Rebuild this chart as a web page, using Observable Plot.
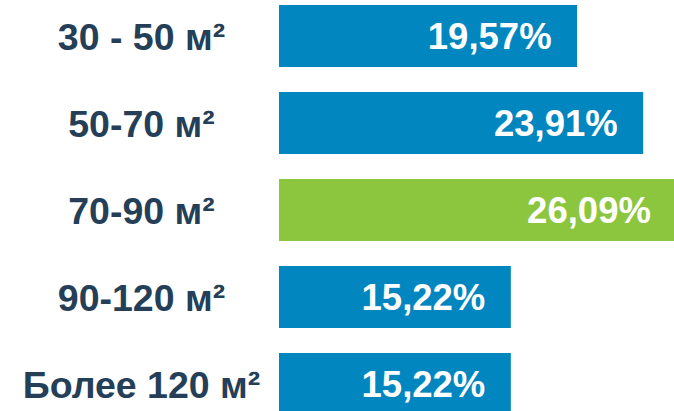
<!DOCTYPE html>
<html>
<head>
<meta charset="utf-8">
<script src="https://cdn.jsdelivr.net/npm/d3@7"></script>
<script src="https://cdn.jsdelivr.net/npm/@observablehq/plot@0.6"></script>
<style>
  html, body { margin: 0; padding: 0; background: #fff; overflow: hidden; }
</style>
</head>
<body>
<div id="chart"></div>
<script>
const categories = ["30 - 50 м²", "50-70 м²", "70-90 м²", "90-120 м²", "Более 120 м²"];
const values = [19.57, 23.91, 26.09, 15.22, 15.22];
const valueLabels = ["19,57%", "23,91%", "26,09%", "15,22%", "15,22%"];
const highlight = ["no", "no", "yes", "no", "no"];

const data = categories.map((c, i) => ({
  category: c,
  value: values[i],
  label: valueLabels[i],
  highlight: highlight[i]
}));

const chart = Plot.plot({
  width: 674,
  height: 411,
  marginLeft: 279,
  marginRight: 0,
  marginTop: 0,
  marginBottom: 0,
  style: { fontFamily: "'Liberation Sans', Arial, sans-serif", background: "#fff" },
  x: { domain: [0, 26.09], range: [279, 676.4], axis: null },
  y: { domain: categories, range: [3.3, 416.1], paddingInner: 0.288, paddingOuter: 0, axis: null },
  color: { domain: ["no", "yes"], range: ["#0286BF", "#8CC63F"] },
  marks: [
    Plot.barX(data, { x: "value", y: "category", fill: "highlight" }),
    Plot.text(data, {
      x: "value", y: "category", text: "label",
      textAnchor: "end", dx: -26, dy: 1,
      fill: "#fff", fontSize: 36.5, fontWeight: "bold"
    }),
    Plot.axisY({
      anchor: "left", label: null, tickSize: 0, tickPadding: 138, textAnchor: "middle",
      fontSize: 37.5, fontWeight: "bold", fill: "#243F57", color: "#243F57", dy: 1
    })
  ]
});
document.getElementById("chart").appendChild(chart);
</script>
</body>
</html>
